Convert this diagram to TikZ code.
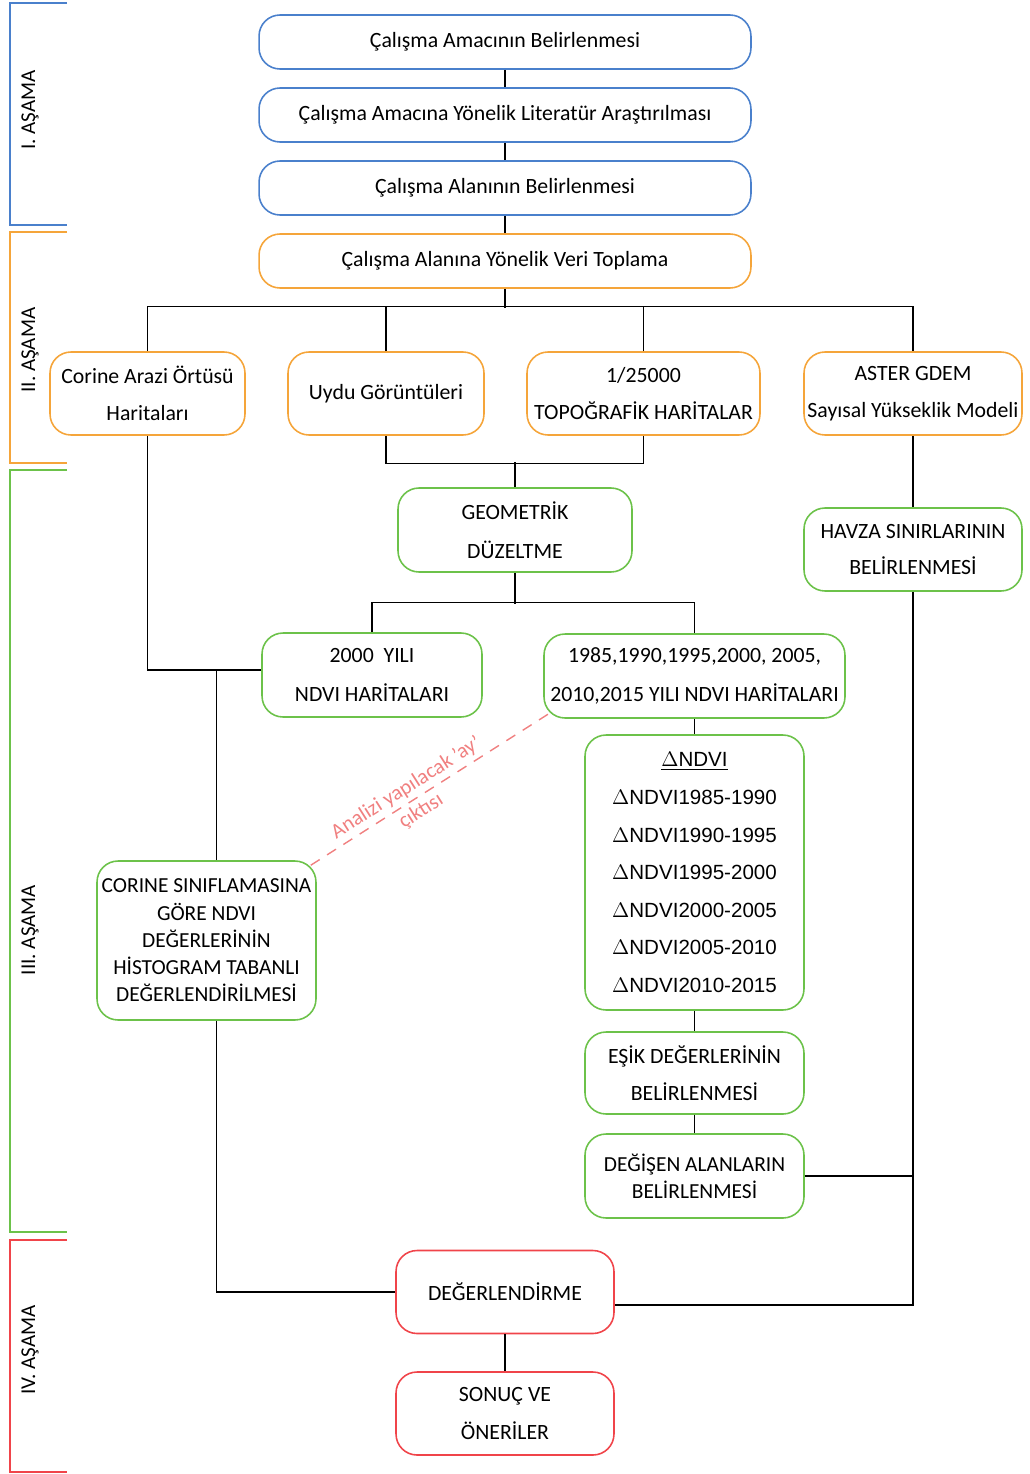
\documentclass[tikz,border=0pt]{standalone}
\usepackage{fontspec}
\setmainfont{Carlito}
\newfontfamily\arialfont{Liberation Sans}
\usetikzlibrary{calc,positioning}
\definecolor{asblue}{HTML}{4A80CC}
\definecolor{asorange}{HTML}{F5A53A}
\definecolor{asgreen}{HTML}{6CC24A}
\definecolor{asred}{HTML}{F0444A}
\definecolor{aspink}{HTML}{F08080}

\begin{document}
\begin{tikzpicture}[x=0.02cm, y=-0.02cm,
    box/.style = {draw, line width=0.9pt, rounded corners=0.42cm, align=center,
      inner sep=0pt, font=\fontsize{12.4}{21}\selectfont},
    bbox/.style = {box, draw=asblue, minimum width=9.84cm, minimum height=1.08cm},
    obox/.style = {box, draw=asorange, minimum height=1.66cm},
    gbox/.style = {box, draw=asgreen, minimum height=1.66cm},
    rbox/.style = {box, draw=asred, minimum width=4.36cm, minimum height=1.66cm},
    tight/.style = {font=\fontsize{12.2}{15.5}\selectfont},
    stage/.style = {rotate=90, font=\fontsize{12}{14}\selectfont},
    link/.style = {line width=0.7pt}]
	\useasboundingbox (0,0) rectangle (1029,1474);

	% asama cizgileri
	\draw[asblue, line width=1pt] (67,3) -- (10,3) -- (10,225) -- (67,225);
	\draw[asorange, line width=1pt] (67,232) -- (10,232) -- (10,463) -- (67,463);
	\draw[asgreen, line width=1pt] (67,470) -- (10,470) -- (10,1232) -- (67,1232);
	\draw[asred, line width=1pt] (67,1240) -- (10,1240) -- (10,1472) -- (67,1472);
	\node[stage] (s1) at (30,110) {I. AŞAMA};
	\node[stage] (s2) at (30,350) {II. AŞAMA};
	\node[stage] (s3) at (30,930) {III. AŞAMA};
	\node[stage] (s4) at (30,1350) {IV. AŞAMA};

	% I. ve II. asama
	\node[bbox] (amac) at (505,42) {Çalışma Amacının Belirlenmesi};
	\node[bbox] (lit) at (505,115) {Çalışma Amacına Yönelik Literatür Araştırılması};
	\node[bbox] (alan) at (505,188) {Çalışma Alanının Belirlenmesi};
	\node[obox, minimum width=9.84cm, minimum height=1.08cm] (veri) at (505,261) {Çalışma Alanına Yönelik Veri Toplama};
	\node[obox, minimum width=3.9cm] (corine) at (147.5,393.5) {Corine Arazi Örtüsü\\Haritaları};
	\node[obox, minimum width=3.92cm] (uydu) at (386,393.5) {Uydu Görüntüleri};
	\node[obox, minimum width=4.66cm] (topo) at (643.5,393.5) {1/25000\\TOPOĞRAFİK HARİTALAR};
	\node[obox, minimum width=4.36cm] (aster) at (913,393.5) {ASTER GDEM\\Sayısal Yükseklik Modeli};

	% III. asama
	\node[gbox, minimum width=4.68cm, minimum height=1.68cm] (geo) at (515,530) {GEOMETRİK\\[1pt]DÜZELTME};
	\node[gbox, minimum width=4.36cm] (havza) at (913,549.5) {HAVZA SINIRLARININ\\BELİRLENMESİ};
	\node[gbox, minimum width=4.4cm, minimum height=1.68cm] (y2000) at (372,675) {2000~~YILI\\[1pt]NDVI HARİTALARI};
	\node[gbox, minimum width=6.02cm, minimum height=1.68cm] (y1985) at (694.5,676) {1985,1990,1995,2000, 2005,\\[1pt]2010,2015 YILI NDVI HARİTALARI};
	\node[gbox, tight, minimum width=4.38cm, minimum height=3.18cm] (corsin) at (206.5,940.5)
		{CORINE SINIFLAMASINA\\GÖRE NDVI\\DEĞERLERİNİN\\HİSTOGRAM TABANLI\\DEĞERLENDİRİLMESİ};
	\node[gbox, minimum width=4.38cm, minimum height=5.5cm,
		font=\arialfont\fontsize{11.7}{21.4}\selectfont] (dndvi) at (694.5,872.5)
		{\underline{$\Delta$NDVI}\\$\Delta$NDVI1985-1990\\$\Delta$NDVI1990-1995\\$\Delta$NDVI1995-2000\\
		 $\Delta$NDVI2000-2005\\$\Delta$NDVI2005-2010\\$\Delta$NDVI2010-2015};
	\node[gbox, minimum width=4.38cm, minimum height=1.64cm] (esik) at (694.5,1073) {EŞİK DEĞERLERİNİN\\BELİRLENMESİ};
	\node[gbox, tight, minimum width=4.38cm, minimum height=1.68cm] (degis) at (694.5,1176) {DEĞİŞEN ALANLARIN\\BELİRLENMESİ};

	% IV. asama
	\node[rbox] (deg) at (505,1292) {DEĞERLENDİRME};
	\node[rbox] (sonuc) at (505,1413.5) {SONUÇ VE\\[1pt]ÖNERİLER};

	% baglantilar
	\draw[link] (amac) -- (lit);
	\draw[link] (lit) -- (alan);
	\draw[link] (alan) -- (veri);
	\draw[link] (veri.south) -- ++(0,19);
	\draw[link] (corine.north) -- ++(0,-45) -| (aster.north);
	\draw[link] (uydu.north) -- ++(0,-45);
	\draw[link] (topo.north) -- ++(0,-45);
	\draw[link] (uydu.south) -- ++(0,28) -| (topo.south);
	\draw[link] (geo.north) -- ++(0,-25);
	\draw[link] (geo.south) -- ++(0,31);
	\draw[link] (y2000.north) -- ++(0,-30) -| (y1985.north);
	\draw[link] (corine.south) |- ($(y2000.west)+(0,-5)$);
	\draw[link] ($(corsin.north)+(10,0)$) -- ($(corsin.north)+(10,-191)$);
	\draw[link] ($(corsin.south)+(10,0)$) |- (deg.west);
	\draw[link] (y1985) -- (dndvi);
	\draw[link] (dndvi) -- (esik);
	\draw[link] (esik) -- (degis);
	\draw[link] (aster) -- (havza);
	\draw[link] (havza.south) |- ($(deg.east)+(0,13)$);
	\draw[link] (degis.east) -- (degis.east -| havza.south);
	\draw[link] (deg) -- (sonuc);
	\draw[aspink, line width=0.8pt, dash pattern=on 6pt off 5pt]
		($(corsin.north east)+(-6,5)$) -- ($(y1985.south west)+(7,-6)$)
		node[pos=0.43, sloped, align=center, text=aspink, font=\fontsize{12}{15.5}\selectfont] (analiz)
		{Analizi yapılacak 'ay'\\çıktısı};
\end{tikzpicture}
\end{document}
